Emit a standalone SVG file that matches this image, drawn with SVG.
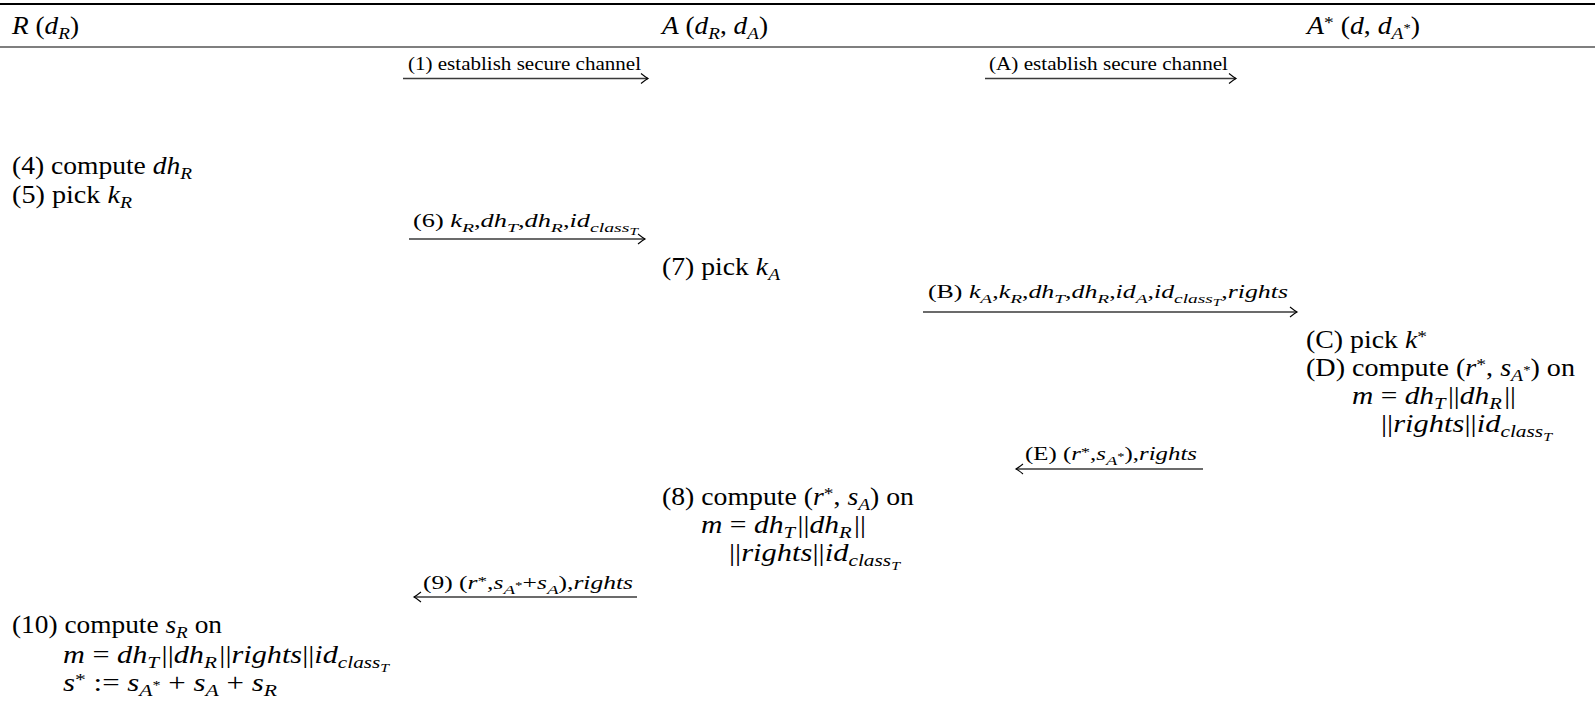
<svg xmlns="http://www.w3.org/2000/svg" width="1595" height="704" viewBox="0 0 1595 704">
<style>
text{font-family:"Liberation Serif","Times New Roman",serif;fill:#000}
.t{font-size:25px}
.l{font-size:18px}
.i{font-style:italic}
.sb{font-size:17.5px}
.ss{font-size:13px}
.ls{font-size:13.5px}
.lss{font-size:10.5px}
.rule{stroke:#000;fill:none}
.arr{stroke:#3a3a3a;stroke-width:1.4;fill:none}
</style>
<defs>
<marker id="ah" viewBox="-8 -6 10 12" refX="0" refY="0" markerWidth="10" markerHeight="12" markerUnits="userSpaceOnUse" orient="auto-start-reverse">
<path d="M-7,-5 Q-2,-1 0,0 Q-2,1 -7,5" stroke="#000" stroke-width="1.1" fill="none"/>
</marker>
</defs>
<g id="rules">
<line class="rule" x1="0" y1="4" x2="1595" y2="4" stroke-width="2"/>
<line class="rule" x1="0" y1="47" x2="1595" y2="47" stroke-width="1.2"/>
</g>
<g id="header-R"><text class="t" x="12" y="34" textLength="67" lengthAdjust="spacingAndGlyphs"><tspan class="i">R</tspan> (<tspan class="i">d</tspan><tspan class="i sb" dy="5">R</tspan><tspan dy="-5">)</tspan></text></g>
<g id="header-A"><text class="t" x="662" y="34" textLength="106" lengthAdjust="spacingAndGlyphs"><tspan class="i">A</tspan> (<tspan class="i">d</tspan><tspan class="i sb" dy="5">R</tspan><tspan dy="-5">, </tspan><tspan class="i">d</tspan><tspan class="i sb" dy="5">A</tspan><tspan dy="-5">)</tspan></text></g>
<g id="header-Astar"><text class="t" x="1307" y="34" textLength="113" lengthAdjust="spacingAndGlyphs"><tspan class="i">A</tspan><tspan class="sb" dy="-6">*</tspan><tspan dy="6"> (</tspan><tspan class="i">d</tspan>, <tspan class="i">d</tspan><tspan class="i sb" dy="5">A</tspan><tspan class="ss" dy="-7">*</tspan><tspan dy="2">)</tspan></text></g>

<g id="connectors">
<line class="arr" x1="403" y1="78.5" x2="648" y2="78.5" marker-end="url(#ah)"/>
<line class="arr" x1="985" y1="78.5" x2="1236" y2="78.5" marker-end="url(#ah)"/>
<line class="arr" x1="409" y1="239" x2="645" y2="239" marker-end="url(#ah)"/>
<line class="arr" x1="923" y1="312" x2="1297" y2="312" marker-end="url(#ah)"/>
<line class="arr" x1="1016" y1="469" x2="1203" y2="469" marker-start="url(#ah)"/>
<line class="arr" x1="414" y1="597" x2="637" y2="597" marker-start="url(#ah)"/>
</g>

<g id="msg-1"><text class="l" x="408" y="70" textLength="233" lengthAdjust="spacingAndGlyphs">(1) establish secure channel</text></g>
<g id="msg-A"><text class="l" x="989" y="70" textLength="239" lengthAdjust="spacingAndGlyphs">(A) establish secure channel</text></g>
<g id="msg-6"><text class="l" x="413" y="227" textLength="225" lengthAdjust="spacingAndGlyphs">(6) <tspan class="i">k</tspan><tspan class="i ls" dy="5">R</tspan><tspan dy="-5">,</tspan><tspan class="i">dh</tspan><tspan class="i ls" dy="5">T</tspan><tspan dy="-5">,</tspan><tspan class="i">dh</tspan><tspan class="i ls" dy="5">R</tspan><tspan dy="-5">,</tspan><tspan class="i">id</tspan><tspan class="i ls" dy="5">class</tspan><tspan class="i lss" dy="3">T</tspan></text></g>
<g id="msg-B"><text class="l" x="928" y="298" textLength="360" lengthAdjust="spacingAndGlyphs">(B) <tspan class="i">k</tspan><tspan class="i ls" dy="5">A</tspan><tspan dy="-5">,</tspan><tspan class="i">k</tspan><tspan class="i ls" dy="5">R</tspan><tspan dy="-5">,</tspan><tspan class="i">dh</tspan><tspan class="i ls" dy="5">T</tspan><tspan dy="-5">,</tspan><tspan class="i">dh</tspan><tspan class="i ls" dy="5">R</tspan><tspan dy="-5">,</tspan><tspan class="i">id</tspan><tspan class="i ls" dy="5">A</tspan><tspan dy="-5">,</tspan><tspan class="i">id</tspan><tspan class="i ls" dy="5">class</tspan><tspan class="i lss" dy="3">T</tspan><tspan dy="-8">,</tspan><tspan class="i">rights</tspan></text></g>
<g id="msg-E"><text class="l" x="1025" y="460" textLength="172" lengthAdjust="spacingAndGlyphs">(E) (<tspan class="i">r</tspan><tspan class="ls" dy="-4">*</tspan><tspan dy="4">,</tspan><tspan class="i">s</tspan><tspan class="i ls" dy="5">A</tspan><tspan class="lss" dy="-5">*</tspan><tspan>),</tspan><tspan class="i">rights</tspan></text></g>
<g id="msg-9"><text class="l" x="423" y="589" textLength="210" lengthAdjust="spacingAndGlyphs">(9) (<tspan class="i">r</tspan><tspan class="ls" dy="-4">*</tspan><tspan dy="4">,</tspan><tspan class="i">s</tspan><tspan class="i ls" dy="5">A</tspan><tspan class="lss" dy="-5">*</tspan><tspan>+</tspan><tspan class="i">s</tspan><tspan class="i ls" dy="5">A</tspan><tspan dy="-5">),</tspan><tspan class="i">rights</tspan></text></g>

<g id="step-4-5">
<text class="t" x="12" y="174" textLength="180" lengthAdjust="spacingAndGlyphs">(4) compute <tspan class="i">dh</tspan><tspan class="i sb" dy="5">R</tspan></text>
<text class="t" x="12" y="203" textLength="120" lengthAdjust="spacingAndGlyphs">(5) pick <tspan class="i">k</tspan><tspan class="i sb" dy="5">R</tspan></text>
</g>
<g id="step-7"><text class="t" x="662" y="275" textLength="118" lengthAdjust="spacingAndGlyphs">(7) pick <tspan class="i">k</tspan><tspan class="i sb" dy="5">A</tspan></text></g>
<g id="step-C-D">
<text class="t" x="1306" y="348" textLength="121" lengthAdjust="spacingAndGlyphs">(C) pick <tspan class="i">k</tspan><tspan class="sb" dy="-6">*</tspan></text>
<text class="t" x="1306" y="376" textLength="269" lengthAdjust="spacingAndGlyphs">(D) compute (<tspan class="i">r</tspan><tspan class="sb" dy="-6">*</tspan><tspan dy="6">, </tspan><tspan class="i">s</tspan><tspan class="i sb" dy="5">A</tspan><tspan class="ss" dy="-7">*</tspan><tspan dy="2">) on</tspan></text>
<text class="t" x="1352" y="404" textLength="164" lengthAdjust="spacingAndGlyphs"><tspan class="i">m</tspan> = <tspan class="i">dh</tspan><tspan class="i sb" dy="5">T</tspan><tspan dy="-5" dx="2">||</tspan><tspan class="i">dh</tspan><tspan class="i sb" dy="5">R</tspan><tspan dy="-5" dx="2">||</tspan></text>
<text class="t" x="1381" y="432" textLength="171" lengthAdjust="spacingAndGlyphs">||<tspan class="i">rights</tspan>||<tspan class="i">id</tspan><tspan class="i sb" dy="5">class</tspan><tspan class="i ss" dy="4">T</tspan></text>
</g>
<g id="step-8">
<text class="t" x="662" y="505" textLength="252" lengthAdjust="spacingAndGlyphs">(8) compute (<tspan class="i">r</tspan><tspan class="sb" dy="-6">*</tspan><tspan dy="6">, </tspan><tspan class="i">s</tspan><tspan class="i sb" dy="5">A</tspan><tspan dy="-5">) on</tspan></text>
<text class="t" x="701" y="533" textLength="165" lengthAdjust="spacingAndGlyphs"><tspan class="i">m</tspan> = <tspan class="i">dh</tspan><tspan class="i sb" dy="5">T</tspan><tspan dy="-5" dx="2">||</tspan><tspan class="i">dh</tspan><tspan class="i sb" dy="5">R</tspan><tspan dy="-5" dx="2">||</tspan></text>
<text class="t" x="729" y="561" textLength="171" lengthAdjust="spacingAndGlyphs">||<tspan class="i">rights</tspan>||<tspan class="i">id</tspan><tspan class="i sb" dy="5">class</tspan><tspan class="i ss" dy="4">T</tspan></text>
</g>
<g id="step-10">
<text class="t" x="12" y="633" textLength="210" lengthAdjust="spacingAndGlyphs">(10) compute <tspan class="i">s</tspan><tspan class="i sb" dy="5">R</tspan><tspan dy="-5"> on</tspan></text>
<text class="t" x="63" y="663" textLength="326" lengthAdjust="spacingAndGlyphs"><tspan class="i">m</tspan> = <tspan class="i">dh</tspan><tspan class="i sb" dy="5">T</tspan><tspan dy="-5" dx="2">||</tspan><tspan class="i">dh</tspan><tspan class="i sb" dy="5">R</tspan><tspan dy="-5" dx="2">||</tspan><tspan class="i">rights</tspan>||<tspan class="i">id</tspan><tspan class="i sb" dy="5">class</tspan><tspan class="i ss" dy="4">T</tspan></text>
<text class="t" x="63" y="691" textLength="214" lengthAdjust="spacingAndGlyphs"><tspan class="i">s</tspan><tspan class="sb" dy="-6">*</tspan><tspan dy="6"> := </tspan><tspan class="i">s</tspan><tspan class="i sb" dy="5">A</tspan><tspan class="ss" dy="-7">*</tspan><tspan dy="2"> + </tspan><tspan class="i">s</tspan><tspan class="i sb" dy="5">A</tspan><tspan dy="-5"> + </tspan><tspan class="i">s</tspan><tspan class="i sb" dy="5">R</tspan></text>
</g>
</svg>
